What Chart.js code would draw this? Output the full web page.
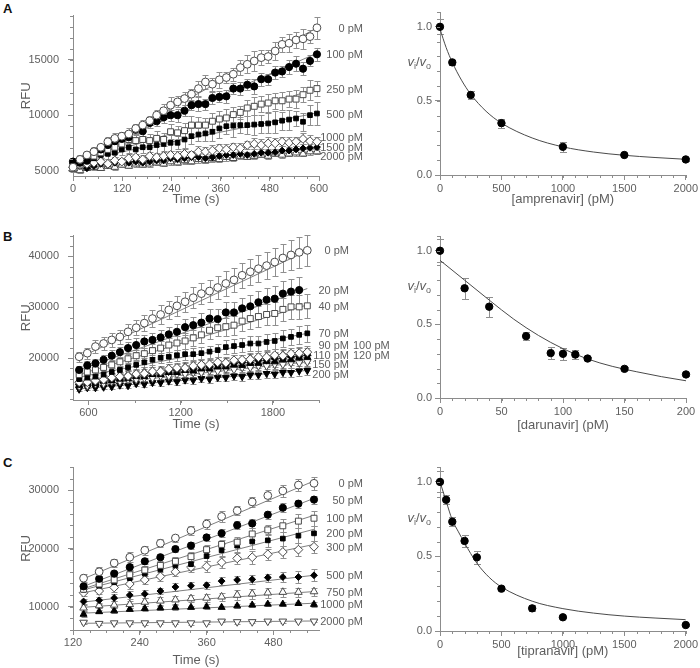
<!DOCTYPE html>
<html>
<head>
<meta charset="utf-8">
<title>Protease inhibition time courses</title>
<script src="https://cdn.jsdelivr.net/npm/chart.js@4.4.1/dist/chart.umd.min.js"></script>
<style>
  body { margin: 0; background: #fff; }
  #page { position: relative; width: 700px; height: 668px; overflow: hidden; }
  #page canvas { position: absolute; }
  .panel-tag { position: absolute; left: 3px; font: bold 13px "Liberation Sans", Arial, sans-serif; color: #111; line-height: 1; }
</style>
</head>
<body>
<div id="page">
  <div class="panel-tag" style="top:2px">A</div>
  <div class="panel-tag" style="top:230px">B</div>
  <div class="panel-tag" style="top:456px">C</div>
  <canvas id="ampTime" width="370" height="212" style="left:0;top:0"></canvas>
  <canvas id="ampRatio" width="305" height="212" style="left:395px;top:0"></canvas>
  <canvas id="daruTime" width="392" height="215" style="left:0;top:220px"></canvas>
  <canvas id="daruRatio" width="305" height="215" style="left:395px;top:220px"></canvas>
  <canvas id="tipTime" width="370" height="228" style="left:0;top:440px"></canvas>
  <canvas id="tipRatio" width="305" height="228" style="left:395px;top:440px"></canvas>
</div>
<script>
/* ---------- A: amprenavir ---------- */
const timeA = [0, 17, 34, 51, 68, 85, 102, 119, 136, 153, 170, 187, 204, 221, 238, 255, 272, 289,
  306, 323, 340, 357, 374, 391, 408, 425, 442, 459, 476, 493, 510, 527, 544, 561, 578, 595];
const labelsA = ["0 pM", "100 pM", "250 pM", "500 pM", "1000 pM", "1500 pM", "2000 pM"];
const amp0 = [5300, 6000, 6400, 6700, 7100, 7600, 7900, 8100, 8300, 8800, 9100, 9500, 10000, 10400, 10900, 11200, 11500, 11900,
  12400, 13000, 12800, 13200, 13400, 13700, 14300, 14600, 14900, 15200, 15300, 15800, 16400, 16500, 16800, 16900, 17100, 17900];
const amp100 = [5800, 5700, 5900, 6700, 6900, 7300, 7650, 7850, 8000, 8700, 8550, 9300, 9450, 9800, 10000, 10000, 10400, 10900,
  11000, 11000, 11550, 11650, 11700, 12400, 12400, 12750, 12600, 13250, 13250, 13850, 13950, 14350, 14650, 14200, 14900, 15500];
const amp250 = [5700, 5500, 5900, 6300, 6600, 6900, 7100, 7400, 7800, 7700, 7800, 7700, 7900, 7800, 8500, 8400, 8600, 9100,
  9100, 9100, 9450, 9650, 9750, 10050, 10250, 10650, 10800, 11000, 11100, 11300, 11300, 11450, 11450, 11850, 12250, 12400];
const amp500 = [5700, 5600, 5800, 6100, 6400, 6500, 6600, 6900, 7100, 6900, 7100, 7100, 7300, 7400, 7500, 7500, 7800, 8100,
  8250, 8350, 8500, 8800, 9000, 9050, 9100, 9100, 9150, 9200, 9250, 9350, 9500, 9600, 9700, 9400, 10000, 10150];
const amp1000 = [5300, 5500, 5600, 5700, 5800, 5600, 5900, 5800, 6100, 6200, 6000, 6300, 6200, 6300, 6400, 6300, 6500, 6400,
  6700, 6700, 6800, 7000, 6900, 7100, 7000, 7300, 7400, 7300, 7450, 7450, 7600, 7500, 7600, 7850, 7650, 7600];
const amp1500 = [5600, 5400, 5200, 5400, 5600, 5500, 5700, 5800, 5700, 5800, 5700, 5800, 5900, 5900, 6100, 6000, 6100, 6200,
  6200, 6100, 6200, 6300, 6400, 6400, 6500, 6400, 6500, 6600, 6600, 6650, 6800, 6800, 6900, 7000, 7050, 7100];
const amp2000 = [5100, 5000, 5200, 5300, 5200, 5400, 5300, 5500, 5400, 5600, 5500, 5600, 5700, 5600, 5800, 5700, 5900, 5800,
  6000, 5900, 6100, 6000, 6200, 6100, 6300, 6200, 6300, 6400, 6300, 6500, 6400, 6500, 6600, 6500, 6700, 6700];
const errA0 = [300, 400, 300, 400, 300, 400, 500, 400, 500, 400, 500, 400, 500, 600, 700, 500, 600, 500,
  700, 600, 600, 700, 500, 600, 700, 800, 900, 700, 600, 800, 700, 800, 700, 900, 600, 1000];
const errA100 = [300, 300, 400, 300, 400, 400, 300, 400, 500, 500, 400, 500, 400, 500, 500, 600, 500, 400,
  600, 500, 500, 500, 600, 500, 600, 500, 700, 600, 500, 600, 500, 600, 700, 600, 500, 600];
const errA250 = [300, 400, 400, 500, 500, 400, 500, 600, 500, 600, 700, 600, 700, 600, 700, 600, 700, 800,
  700, 600, 700, 700, 800, 700, 600, 700, 800, 700, 800, 700, 800, 700, 800, 700, 900, 700];
const errA500 = [300, 400, 300, 400, 400, 500, 400, 500, 500, 600, 500, 600, 700, 600, 700, 600, 800, 700,
  600, 700, 800, 900, 700, 1000, 700, 800, 900, 800, 900, 1000, 800, 900, 700, 800, 900, 1000];
const errA1000 = [300, 200, 300, 300, 300, 400, 300, 300, 400, 300, 400, 400, 300, 400, 400, 500, 400, 400,
  500, 400, 500, 400, 500, 400, 500, 400, 500, 500, 600, 500, 400, 500, 400, 500, 600, 400];
const errA1500 = [200, 300, 200, 300, 200, 300, 300, 200, 300, 300, 300, 200, 300, 300, 300, 300, 400, 300,
  300, 400, 300, 300, 400, 300, 300, 300, 400, 300, 300, 300, 400, 300, 300, 400, 300, 300];
const errA2000 = [200, 200, 200, 300, 200, 200, 300, 200, 200, 300, 200, 300, 200, 200, 300, 200, 300, 200,
  300, 200, 300, 200, 300, 200, 300, 200, 300, 200, 300, 200, 300, 200, 300, 200, 300, 200];
const fitSpanA = [0, 595];
const fitStartA = [5700, 5900, 5600, 5800, 5500, 5450, 5150];
const fitEndA = [17900, 15600, 12400, 10200, 7750, 6950, 6750];

const ampConc = [0, 100, 250, 500, 1000, 1500, 2000];
const ampRatio = [1.0, 0.76, 0.54, 0.35, 0.19, 0.135, 0.105];
const ampErr = [0.05, 0.015, 0.03, 0.03, 0.035, 0.01, 0.01];
const ampCurveX = [0, 50, 100, 175, 250, 375, 500, 750, 1000, 1250, 1500, 1750, 2000];
const ampCurveY = [0.985, 0.86, 0.76, 0.64, 0.545, 0.43, 0.35, 0.25, 0.19, 0.155, 0.133, 0.118, 0.106];

/* ---------- B: darunavir ---------- */
const timeB = [540, 593, 646, 699, 752, 805, 858, 911, 964, 1017, 1070, 1123, 1176, 1229, 1282,
  1335, 1388, 1441, 1494, 1547, 1600, 1653, 1706, 1759, 1812, 1865, 1918, 1971, 2024];
const labelsB = ["0 pM", "20 pM", "40 pM", "70 pM", "90 pM", "100 pM", "110 pM", "120 pM", "150 pM", "200 pM"];
const rowMatesB = [5, 7]; // these labels sit on the same row as the label before them
const daru0 = [20300, 21000, 22300, 22900, 23600, 24200, 25200, 26000, 26900, 27800, 28600, 29500, 30300, 31100, 31900,
  32700, 33200, 33900, 34700, 35400, 36300, 37000, 37600, 38200, 38900, 39700, 40300, 40800, 41200];
const daru20 = [17700, 18600, 19000, 19700, 20500, 21200, 22000, 22600, 23300, 23600, 24100, 24700, 25200, 26100, 26500,
  27000, 27800, 27700, 29000, 29000, 29800, 30200, 31000, 31500, 31700, 32700, 33100, 33400, null];
const daru40 = [16800, 17300, 17700, 18200, 18700, 19300, 19900, 20500, 20900, 21500, 22000, 22600, 23000, 23400, 24000,
  24600, 25500, 26000, 26200, 26500, 27300, 27800, 28200, 28600, 28800, 29600, 30100, 30100, 30300];
const daru70 = [15900, 16200, 16400, 16800, 17300, 17700, 18200, 18700, 19200, 19700, 20100, 20300, 20600, 20800, 20800,
  21000, 21300, 21600, 22200, 22400, 22600, 22900, 22900, 23200, 23400, 23900, 24200, 24600, 24900];
const daru90 = [15300, 15300, 15600, 15800, 16200, 16400, 16500, 16900, 17000, 17400, 17400, 17900, 18100, 18100, 18500,
  18700, 18800, 19200, 19100, 19600, 19700, 19800, 20200, 20200, 20600, 20500, 20900, 21000, 21200];
const daru100 = [14900, 15200, 15200, 15700, 15800, 16200, 16200, 16700, 16700, 17100, 17200, 17300, 17700, 17800, 17900,
  18300, 18300, 18700, 18700, 19000, 19200, 19200, 19600, 19600, 20000, 20000, 20300, 20300, 20600];
const daru110 = [15600, 15600, 16000, 16000, 16400, 16500, 16900, 16900, 17300, 17500, 17600, 18000, 18000, 18300, 18400,
  18800, 18700, 19200, 19200, 19500, 19600, 20000, 19900, 20300, 20200, 20700, 20600, 21000, 20900];
const daru120 = [14700, 15100, 15100, 15500, 15600, 15900, 16000, 16400, 16400, 16800, 16800, 17200, 17200, 17600, 17500,
  17900, 17900, 18300, 18300, 18700, 18600, 19000, 19000, 19400, 19300, 19700, 19700, 20100, 20200];
const daru150 = [14500, 14600, 15000, 15000, 15400, 15400, 15800, 15800, 16100, 16100, 16500, 16500, 16900, 16900, 17200,
  17200, 17600, 17500, 17900, 17800, 18200, 18200, 18500, 18500, 18800, 18800, 19100, 19100, 19300];
const daru200 = [13900, 14200, 14200, 14300, 14400, 14700, 14600, 15000, 14900, 15200, 15200, 15500, 15400, 15700, 15700,
  16000, 15900, 16200, 16200, 16500, 16400, 16700, 16700, 17000, 16900, 17200, 17200, 17500, 17600];
const errB0 = [1000, 1100, 1200, 1200, 1300, 1400, 1500, 1500, 1600, 1700, 1800, 1800, 1900, 2000, 2100,
  2100, 2200, 2300, 2400, 2400, 2500, 2600, 2600, 2700, 2800, 2800, 2900, 3000, 3000];
const errB20 = [800, 900, 900, 1000, 1100, 1100, 1200, 1300, 1300, 1400, 1400, 1500, 1600, 1600, 1700,
  1800, 1800, 1900, 2000, 2000, 2100, 2200, 2200, 2300, 2400, 2400, 2500, 2600, null];
const errB40 = [700, 800, 800, 900, 1000, 1000, 1100, 1100, 1200, 1300, 1300, 1400, 1400, 1500, 1600,
  1600, 1700, 1700, 1800, 1900, 1900, 2000, 2100, 2100, 2200, 2200, 2300, 2400, 2400];
const errB70 = [500, 600, 600, 700, 700, 800, 800, 900, 900, 1000, 1000, 1000, 1100, 1100, 1200,
  1200, 1200, 1300, 1300, 1400, 1400, 1400, 1500, 1500, 1600, 1600, 1600, 1700, 1700];
const errB90 = [700, 700, 800, 700, 800, 800, 900, 800, 900, 900, 800, 900, 1000, 900, 1000,
  900, 1000, 1100, 1000, 1100, 1000, 1100, 1200, 1100, 1200, 1100, 1200, 1100, 1200];
const errB100 = [600, 700, 600, 700, 700, 800, 700, 800, 800, 700, 800, 900, 800, 900, 800,
  900, 900, 1000, 900, 1000, 900, 1000, 1000, 1100, 1000, 1100, 1000, 1100, 1100];
const errB110 = [600, 600, 700, 700, 700, 800, 800, 800, 900, 800, 900, 900, 900, 1000, 900,
  1000, 1000, 1100, 1000, 1100, 1000, 1100, 1100, 1200, 1100, 1200, 1100, 1200, 1200];
const errB120 = [500, 600, 600, 600, 700, 600, 700, 700, 800, 700, 800, 800, 800, 900, 800,
  900, 900, 900, 1000, 900, 1000, 1000, 1000, 1100, 1000, 1100, 1100, 1100, 1100];
const errB150 = [500, 500, 600, 500, 600, 600, 600, 700, 600, 700, 700, 700, 800, 700, 800,
  800, 800, 900, 800, 900, 900, 900, 900, 1000, 900, 1000, 1000, 1000, 1000];
const errB200 = [400, 400, 500, 400, 500, 500, 500, 500, 600, 500, 600, 600, 600, 600, 700,
  600, 700, 700, 700, 700, 800, 700, 800, 800, 800, 800, 800, 900, 900];
const fitSpanB = [540, 2024];
const fitStartB = [20100, 17700, 16800, 16300, 15300, 14900, 15600, 14800, 14500, 14000];
const fitEndB = [41100, 33700, 30500, 24900, 21200, 20600, 21000, 20200, 19300, 17600];

const daruConc = [0, 20, 40, 70, 90, 100, 110, 120, 150, 200];
const daruRatio = [1.0, 0.745, 0.62, 0.42, 0.305, 0.30, 0.295, 0.268, 0.198, 0.16];
const daruErr = [0.077, 0.071, 0.068, 0.028, 0.043, 0.04, 0.032, 0.01, 0.01, 0.01];
const daruCurveX = [0, 20, 40, 60, 80, 100, 120, 140, 160, 180, 200];
const daruCurveY = [0.935, 0.80, 0.665, 0.535, 0.425, 0.335, 0.265, 0.215, 0.178, 0.145, 0.117];

/* ---------- C: tipranavir ---------- */
const timeC = [139, 167, 194, 222, 249, 277, 304, 332, 360, 387, 415, 442, 470, 497, 525, 553];
const labelsC = ["0 pM", "50 pM", "100 pM", "200 pM", "300 pM", "500 pM", "750 pM", "1000 pM", "2000 pM"];
const tip0 = [14900, 16000, 17500, 18500, 19700, 20900, 21800, 23100, 24200, 25500, 26500, 28000, 29100, 29900, 30900, 31200];
const tip50 = [13500, 14800, 15700, 16800, 17800, 18500, 19900, 20500, 21900, 22600, 24000, 24300, 25800, 27000, 27700, 28400];
const tip100 = [13000, 13900, 14600, 15500, 16300, 17100, 17800, 18600, 19800, 20700, 21100, 22500, 23200, 23900, 24700, 25200];
const tip200 = [12900, 13600, 14200, 14900, 15700, 16400, 17100, 17300, 18700, 19700, 20500, 21200, 21400, 21700, 22200, 22600];
const tip300 = [12400, 12700, 13300, 13900, 14600, 15200, 16000, 16800, 16900, 17600, 18300, 18500, 19000, 19400, 19800, 20300];
const tip500 = [10900, 11100, 11500, 12000, 12200, 12700, 13400, 13600, 13700, 14400, 14600, 14700, 15000, 15100, 15100, 15400];
const tip750 = [9800, 10200, 10300, 10400, 10800, 11000, 11200, 11400, 11500, 11700, 12000, 12200, 12400, 12500, 12500, 12600];
const tip1000 = [8700, 9150, 9300, 9550, 9700, 9800, 9900, 9900, 10000, 9900, 10150, 10300, 10450, 10450, 10550, 10400];
const tip2000 = [7300, 7100, 7200, 7200, 7200, 7200, 7200, 7200, 7200, 7500, 7400, 7400, 7500, 7500, 7500, 7500];
const errC0 = [700, 800, 700, 900, 800, 700, 600, 700, 800, 900, 800, 900, 900, 1000, 1000, 1100];
const errC50 = [500, 500, 400, 500, 500, 600, 500, 600, 600, 700, 700, 800, 700, 800, 700, 700];
const errC100 = [500, 500, 600, 600, 700, 600, 700, 800, 800, 700, 900, 1000, 900, 1100, 1200, 1300];
const errC200 = [500, 600, 700, 700, 700, 800, 900, 1000, 900, 1000, 1100, 1200, 1100, 1200, 1300, 1300];
const errC300 = [600, 600, 700, 800, 700, 800, 700, 800, 1000, 900, 1000, 1100, 900, 1000, 1100, 1000];
const errC500 = [500, 600, 600, 700, 700, 600, 700, 600, 600, 700, 700, 800, 700, 900, 1000, 1000];
const errC750 = [500, 500, 600, 600, 700, 700, 700, 600, 700, 700, 800, 800, 900, 800, 800, 700];
const errC1000 = [400, 300, 400, 300, 400, 300, 400, 300, 400, 300, 400, 300, 400, 400, 300, 400];
const errC2000 = [200, 300, 200, 200, 300, 200, 200, 300, 200, 200, 300, 200, 200, 300, 200, 200];
const fitSpanC = [139, 553];
const fitStartC = [14800, 13500, 13100, 12900, 12400, 10800, 9900, 8900, 7150];
const fitEndC = [31600, 28600, 25700, 23300, 20700, 15400, 12600, 10600, 7550];

const tipConc = [0, 50, 100, 200, 300, 500, 750, 1000, 2000];
const tipRatio = [1.0, 0.88, 0.733, 0.604, 0.494, 0.284, 0.152, 0.092, 0.04];
const tipErr = [0.07, 0.03, 0.03, 0.04, 0.043, 0.01, 0.02, 0.005, 0.005];
const tipCurveX = [0, 50, 100, 150, 200, 300, 400, 500, 750, 1000, 1250, 1500, 1750, 2000];
const tipCurveY = [1.0, 0.87, 0.745, 0.665, 0.59, 0.455, 0.36, 0.295, 0.2, 0.15, 0.12, 0.1, 0.087, 0.076];

/* ---------- shared look ---------- */
const FONT = '"Liberation Sans", Arial, Helvetica, sans-serif';
const GREY = "#5e5e5e";
const AXIS = "#8c8c8c";
const ratioTicks = [0, 0.5, 1.0];

Chart.defaults.font.family = FONT;
Chart.defaults.color = GREY;

// marker styles, in the order the series are listed
const MARKS = [
  { style: "circle", fill: "#fff", r: 3.9 },
  { style: "circle", fill: "#000", r: 3.6 },
  { style: "rect", fill: "#fff", r: 4.2 },
  { style: "rect", fill: "#000", r: 3.3 },
  { style: "rectRot", fill: "#fff", r: 4.4 },
  { style: "rectRot", fill: "#000", r: 3.4 },
  { style: "triangle", fill: "#fff", r: 4.4 },
  { style: "triangle", fill: "#000", r: 4 },
  { style: "triangle", fill: "#fff", r: 4.4, rot: 180 },
  { style: "triangle", fill: "#000", r: 4, rot: 180 }
];

/* ---------- plugins ---------- */
const errorBars = {
  id: "errorBars",
  beforeDatasetsDraw(chart, args, opts) {
    const { ctx } = chart;
    const ys = chart.scales.y;
    const cap = opts.cap || 3;
    ctx.save();
    ctx.strokeStyle = "#8f8f8f";
    ctx.lineWidth = 1;
    chart.data.datasets.forEach((ds, i) => {
      if (!ds.errorBars) return;
      chart.getDatasetMeta(i).data.forEach((pt, j) => {
        const d = ds.data[j];
        if (!d.e) return;
        const top = Math.round(ys.getPixelForValue(d.y + d.e)) + 0.5;
        const bot = Math.round(ys.getPixelForValue(d.y - d.e)) + 0.5;
        const x = Math.round(pt.x) + 0.5;
        ctx.beginPath();
        ctx.moveTo(x, top); ctx.lineTo(x, bot);
        ctx.moveTo(x - cap, top); ctx.lineTo(x + cap, top);
        ctx.moveTo(x - cap, bot); ctx.lineTo(x + cap, bot);
        ctx.stroke();
      });
    });
    ctx.restore();
  }
};

const minorTicks = {
  id: "minorTicks",
  afterDraw(chart, args, opts) {
    if (!opts.x) return;
    const { ctx, chartArea } = chart;
    const xs = chart.scales.x, ys = chart.scales.y;
    ctx.save();
    ctx.strokeStyle = AXIS;
    ctx.lineWidth = 1;
    ctx.beginPath();
    for (let k = Math.ceil(xs.min / opts.x - 1e-9); k * opts.x <= xs.max + 1e-9; k++) {
      const px = Math.round(xs.getPixelForValue(k * opts.x)) + 0.5;
      ctx.moveTo(px, chartArea.bottom);
      ctx.lineTo(px, chartArea.bottom + 3);
    }
    for (let k = Math.ceil(ys.min / opts.y - 1e-9); k * opts.y <= ys.max + 1e-9; k++) {
      const py = Math.round(ys.getPixelForValue(k * opts.y)) + 0.5;
      ctx.moveTo(chartArea.left, py);
      ctx.lineTo(chartArea.left - 3, py);
    }
    ctx.stroke();
    ctx.restore();
  }
};

// push labels apart so they keep a minimum gap, centred on where they want to be
function spread(items, gap) {
  let groups = items.map(it => ({ members: [it], top: it.y }));
  let merged = true;
  while (merged) {
    merged = false;
    for (let i = 1; i < groups.length; i++) {
      const a = groups[i - 1], b = groups[i];
      if (a.top + a.members.length * gap > b.top) {
        const members = a.members.concat(b.members);
        const mean = members.reduce((s, m) => s + m.y, 0) / members.length;
        groups.splice(i - 1, 2, { members, top: mean - (members.length - 1) * gap / 2 });
        merged = true;
        break;
      }
    }
  }
  groups.forEach(g => g.members.forEach((m, k) => { m.ly = g.top + k * gap; }));
}

const endLabels = {
  id: "endLabels",
  afterDraw(chart, args, opts) {
    if (!opts.right) return;
    const { ctx } = chart;
    const ys = chart.scales.y;
    const items = [];
    chart.data.datasets.forEach(ds => {
      if (!ds.endLabel) return;
      const last = ds.data[ds.data.length - 1];
      items.push({ text: ds.endLabel, extra: ds.extraLabel, y: ys.getPixelForValue(last.y) });
    });
    items.sort((a, b) => a.y - b.y);
    spread(items, opts.gap);
    ctx.save();
    ctx.font = "11px " + FONT;
    ctx.fillStyle = GREY;
    ctx.textBaseline = "middle";
    items.forEach(it => {
      ctx.textAlign = "right";
      ctx.fillText(it.text, opts.right, it.ly + 1);
      if (it.extra) {
        ctx.textAlign = "left";
        ctx.fillText(it.extra, opts.right + 4, it.ly + 1);
      }
    });
    ctx.restore();
  }
};

// "vi/vo" axis title with italic v and subscripts
const ratioTitle = {
  id: "ratioTitle",
  afterDraw(chart, args, opts) {
    if (opts.at === undefined) return;
    const { ctx, chartArea } = chart;
    const base = chart.scales.y.getPixelForValue(opts.at) + 4;
    const parts = [
      ["v", "italic 13px " + FONT, 0],
      ["i", "9px " + FONT, 3],
      ["/", "13px " + FONT, 0],
      ["v", "italic 13px " + FONT, 0],
      ["o", "9px " + FONT, 3]
    ];
    ctx.save();
    ctx.fillStyle = GREY;
    ctx.textBaseline = "alphabetic";
    ctx.textAlign = "left";
    let total = 0;
    parts.forEach(p => { ctx.font = p[1]; total += ctx.measureText(p[0]).width; });
    let x = chartArea.left - 9 - total;
    parts.forEach(p => {
      ctx.font = p[1];
      ctx.fillText(p[0], x, base + p[2]);
      x += ctx.measureText(p[0]).width;
    });
    ctx.restore();
  }
};

Chart.register(errorBars, minorTicks, endLabels, ratioTitle);

/* ---------- builders ---------- */
function pointsOf(xs, ys, es) {
  const out = [];
  xs.forEach((x, i) => {
    if (ys[i] === null) return;
    out.push({ x, y: ys[i], e: es ? es[i] : 0 });
  });
  return out;
}

function markerSet(label, pts, mark) {
  const filled = mark.fill === "#000";
  return {
    endLabel: label,
    data: pts,
    errorBars: true,
    showLine: false,
    clip: false,
    pointStyle: mark.style,
    pointRotation: mark.rot || 0,
    pointRadius: mark.r,
    pointHoverRadius: mark.r,
    pointBackgroundColor: mark.fill,
    pointBorderColor: filled ? "#000" : "#4a4a4a",
    pointBorderWidth: 1,
    order: 1
  };
}

function fitSet(span, y0, y1, colour) {
  return {
    data: [{ x: span[0], y: y0 }, { x: span[1], y: y1 }],
    showLine: true,
    pointRadius: 0,
    borderColor: colour,
    borderWidth: 0.9,
    order: 5
  };
}

function axisX(range, ticks, height, title, titlePad, labelPad) {
  return {
    type: "linear",
    min: range[0],
    max: range[1],
    afterBuildTicks: s => { s.ticks = ticks.map(v => ({ value: v })); },
    afterFit: s => { s.height = height; },
    grid: { drawOnChartArea: false, tickLength: 5, tickColor: AXIS },
    border: { color: AXIS },
    ticks: { color: GREY, font: { size: 11 }, padding: labelPad, maxRotation: 0, autoSkip: false, callback: v => String(v) },
    title: { display: true, text: title, color: GREY, font: { size: 13 }, padding: { top: 0, bottom: titlePad } }
  };
}

function axisY(range, ticks, width, title, labelPad, fmt) {
  return {
    type: "linear",
    min: range[0],
    max: range[1],
    afterBuildTicks: s => { s.ticks = ticks.map(v => ({ value: v })); },
    afterFit: s => { s.width = width; },
    grid: { drawOnChartArea: false, tickLength: 5, tickColor: AXIS },
    border: { color: AXIS },
    ticks: { color: GREY, font: { size: 11 }, padding: labelPad, autoSkip: false, callback: v => fmt(v) },
    title: { display: !!title, text: title, color: GREY, font: { size: 13 }, padding: { top: 19, bottom: 0 } }
  };
}

function timeChart(id, o) {
  const datasets = [];
  o.series.forEach((vals, i) => {
    const ds = markerSet(o.labels[i], pointsOf(o.times, vals, o.errors[i]), MARKS[i]);
    datasets.push(ds);
  });
  (o.rowMates || []).forEach(i => {
    datasets[i - 1].extraLabel = datasets[i].endLabel;
    datasets[i].endLabel = null;
  });
  o.fitStart.forEach((y0, i) => datasets.push(fitSet(o.fitSpan, y0, o.fitEnd[i], "#707070")));

  return new Chart(document.getElementById(id), {
    type: "scatter",
    data: { datasets },
    options: {
      responsive: false,
      animation: false,
      events: [],
      layout: { padding: { left: 0, top: o.top, right: o.right, bottom: 0 } },
      plugins: {
        legend: { display: false },
        tooltip: { enabled: false },
        errorBars: { cap: 3 },
        minorTicks: { x: o.xMinor, y: o.yMinor },
        endLabels: { right: o.labelRight, gap: 9.5 }
      },
      scales: {
        x: axisX(o.xRange, o.xTicks, o.xHeight, "Time (s)", o.titlePad, 1),
        y: axisY(o.yRange, o.yTicks, 73, "RFU", 9, v => String(v))
      }
    }
  });
}

function ratioChart(id, o) {
  return new Chart(document.getElementById(id), {
    type: "scatter",
    data: {
      datasets: [
        {
          data: pointsOf(o.conc, o.ratio, o.err),
          errorBars: true,
          clip: false,
          pointStyle: "circle",
          pointRadius: 3.7,
          pointHoverRadius: 3.7,
          pointBackgroundColor: "#000",
          pointBorderColor: "#000",
          order: 1
        },
        {
          data: pointsOf(o.curveX, o.curveY),
          showLine: true,
          pointRadius: 0,
          borderColor: "#4a4a4a",
          borderWidth: 1,
          cubicInterpolationMode: "monotone",
          order: 5
        }
      ]
    },
    options: {
      responsive: false,
      animation: false,
      events: [],
      layout: { padding: { left: 0, top: o.top, right: 14, bottom: 0 } },
      plugins: {
        legend: { display: false },
        tooltip: { enabled: false },
        errorBars: { cap: 3.5 },
        minorTicks: { x: o.xMinor, y: 0.1 },
        ratioTitle: { at: 0.76 }
      },
      scales: {
        x: axisX([0, o.xMax], o.xTicks, o.xHeight, o.title, o.titlePad, 2),
        y: axisY([0, 1.1], ratioTicks, 45, "", 3, v => v.toFixed(1))
      }
    }
  });
}

/* ---------- draw ---------- */
timeChart("ampTime", {
  times: timeA,
  labels: labelsA,
  series: [amp0, amp100, amp250, amp500, amp1000, amp1500, amp2000],
  errors: [errA0, errA100, errA250, errA500, errA1000, errA1500, errA2000],
  fitSpan: fitSpanA, fitStart: fitStartA, fitEnd: fitEndA,
  xRange: [0, 600], xTicks: [0, 120, 240, 360, 480, 600], xMinor: 30,
  yRange: [4500, 19000], yTicks: [5000, 10000, 15000], yMinor: 1000,
  top: 12, right: 51, xHeight: 36, titlePad: 5, labelRight: 363
});

ratioChart("ampRatio", {
  conc: ampConc, ratio: ampRatio, err: ampErr,
  curveX: ampCurveX, curveY: ampCurveY,
  xMax: 2000, xTicks: [0, 500, 1000, 1500, 2000], xMinor: 100,
  title: "[amprenavir] (pM)", top: 12, xHeight: 37, titlePad: 5
});

timeChart("daruTime", {
  times: timeB,
  labels: labelsB,
  rowMates: rowMatesB,
  series: [daru0, daru20, daru40, daru70, daru90, daru100, daru110, daru120, daru150, daru200],
  errors: [errB0, errB20, errB40, errB70, errB90, errB100, errB110, errB120, errB150, errB200],
  fitSpan: fitSpanB, fitStart: fitStartB, fitEnd: fitEndB,
  xRange: [500, 2100], xTicks: [600, 1200, 1800], xMinor: 300,
  yRange: [11800, 44100], yTicks: [20000, 30000, 40000], yMinor: 2000,
  top: 15, right: 73, xHeight: 35, titlePad: 3, labelRight: 349
});

ratioChart("daruRatio", {
  conc: daruConc, ratio: daruRatio, err: daruErr,
  curveX: daruCurveX, curveY: daruCurveY,
  xMax: 200, xTicks: [0, 50, 100, 150, 200], xMinor: 10,
  title: "[darunavir] (pM)", top: 16, xHeight: 37, titlePad: 2
});

timeChart("tipTime", {
  times: timeC,
  labels: labelsC,
  series: [tip0, tip50, tip100, tip200, tip300, tip500, tip750, tip1000, tip2000],
  errors: [errC0, errC50, errC100, errC200, errC300, errC500, errC750, errC1000, errC2000],
  fitSpan: fitSpanC, fitStart: fitStartC, fitEnd: fitEndC,
  xRange: [120, 562], xTicks: [120, 240, 360, 480], xMinor: 30,
  yRange: [6000, 34000], yTicks: [10000, 20000, 30000], yMinor: 2000,
  top: 27, right: 51, xHeight: 38, titlePad: 0, labelRight: 363
});

ratioChart("tipRatio", {
  conc: tipConc, ratio: tipRatio, err: tipErr,
  curveX: tipCurveX, curveY: tipCurveY,
  xMax: 2000, xTicks: [0, 500, 1000, 1500, 2000], xMinor: 100,
  title: "[tipranavir] (pM)", top: 27, xHeight: 37, titlePad: 9
});
</script>
</body>
</html>
